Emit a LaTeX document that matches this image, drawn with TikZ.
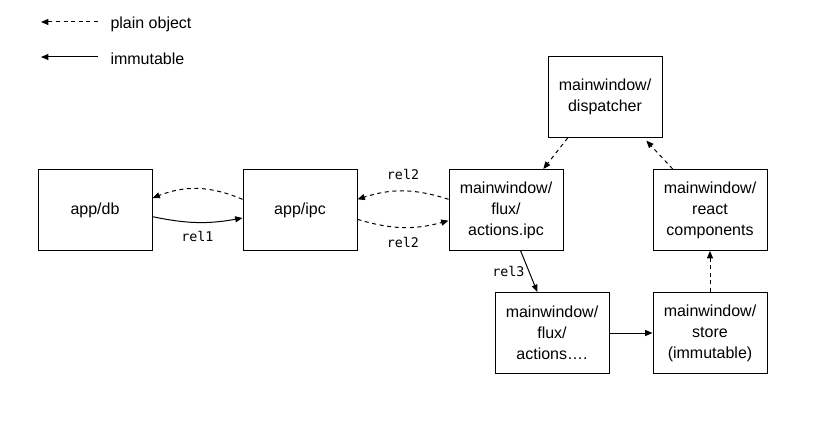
\documentclass[tikz,border=0pt]{standalone}
\usepackage{fontspec}
\setmainfont{Liberation Sans}
\setmonofont{DejaVu Sans Mono}
\usetikzlibrary{arrows.meta}

\begin{document}
\begin{tikzpicture}[x=.75pt,y=-.75pt,>={Triangle[length=5.5pt,width=4.5pt]},line width=.75pt,
  box/.style={draw,minimum width=85.5pt,minimum height=60.75pt,inner sep=0pt,align=center,font=\fontsize{12}{15.75}\selectfont},
  plainobj/.style={->,dash pattern=on 3pt off 2.7pt},
  immut/.style={->},
  rel/.style={font=\ttfamily\fontsize{10}{12}\selectfont,inner sep=0pt},
  legtext/.style={anchor=west,inner sep=0pt,font=\fontsize{12}{14}\selectfont}]
\useasboundingbox (0,0) rectangle (837,448);
\node[legtext] (plain) at (110,24.5) {plain object};
\node[legtext] (immu) at (110,59) {immutable};
\coordinate (plainend) at (41,22);
\coordinate (immuend) at (41,57);
\draw[plainobj] ([xshift=-9pt]plain.west|-plainend) -- (plainend);
\draw[immut] ([xshift=-9pt]immu.west|-immuend) -- (immuend);
\node[box] (db) at (95,210) {app/db};
\node[box] (ipc) at (300,210) {app/ipc};
\node[box] (aipc) at (506,210) {mainwindow/\\flux/\\actions.ipc};
\node[box] (disp) at (605,97) {mainwindow/\\dispatcher};
\node[box] (react) at (710,210) {mainwindow/\\react\\components};
\node[box] (acts) at (552,333) {mainwindow/\\flux/\\actions\dots.};
\node[box] (store) at (710,333) {mainwindow/\\store\\(immutable)};
\draw[plainobj] ([yshift=8pt]ipc.west) to[bend right=22] ([yshift=9pt]db.east);
\draw[immut] ([yshift=-5pt]db.east) to[bend right=11] node[rel,midway,below=6pt] (r1) {rel1} ([yshift=-6pt]ipc.west);
\draw[plainobj] ([yshift=8pt]aipc.west) to[bend right=18] node[rel,midway,above=8pt] (r2a) {rel2} ([yshift=8pt]ipc.east);
\draw[plainobj] ([yshift=-7pt]ipc.east) to[bend right=16] node[rel,midway,below=7pt] (r2b) {rel2} ([yshift=-8pt]aipc.west);
\draw[plainobj] ([xshift=-28pt]disp.south) -- ([xshift=28pt]aipc.north);
\draw[plainobj] ([xshift=-28pt]react.north) -- ([xshift=31pt,yshift=-2pt]disp.south);
\draw[immut] ([xshift=11pt]aipc.south) -- node[rel,midway,left=3pt] (r3) {rel3} ([xshift=-11pt]acts.north);
\draw[immut] (acts) -- (store);
\draw[plainobj] (store) -- (react);
\end{tikzpicture}
\end{document}
